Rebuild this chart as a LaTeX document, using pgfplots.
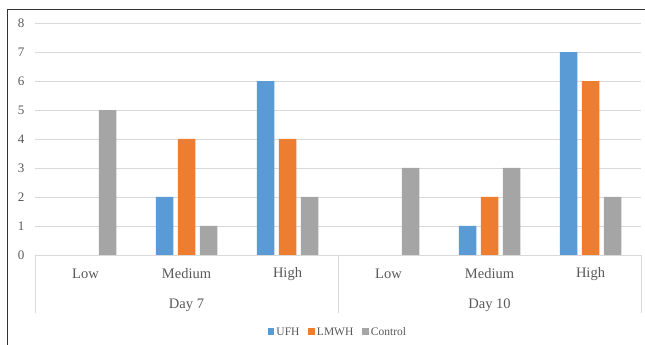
\documentclass[border=0pt]{standalone}
\usepackage{pgfplots}
\pgfplotsset{compat=1.18}
\usepackage{fontspec}
\setmainfont{Liberation Serif}
\definecolor{cUFH}{HTML}{5B9BD5}
\definecolor{cLMWH}{HTML}{ED7D31}
\definecolor{cCtrl}{HTML}{A5A5A5}
\definecolor{gridc}{HTML}{D9D9D9}
\definecolor{txt}{HTML}{595959}
\begin{document}
\begin{tikzpicture}[x=1pt,y=1pt]
\useasboundingbox (0,0) rectangle (645,345);
\draw[line width=1pt, black!80] (7,0) -- (7,335) -- (645,335);
\begin{axis}[
  at={(35pt,90pt)}, anchor=south west,
  scale only axis, width=606pt, height=232pt,
  ybar=4.5pt, bar width=17.5pt,
  xmin=-0.5, xmax=5.5, ymin=0, ymax=8,
  ytick={0,1,...,8},
  xtick={0,1,2,3,4,5},
  xticklabels={Low,Medium,High,Low,Medium,High},
  axis line style={draw=none},
  major tick length=0pt,
  ymajorgrids, grid style={gridc, line width=0.8pt},
  /pgf/number format/assume math mode=true,
  yticklabel style={font=\fontsize{13}{15}\selectfont, text=txt, xshift=-7pt},
  xticklabel style={font=\fontsize{14.5}{16}\selectfont, text=txt, anchor=center, yshift=-19pt},
  clip=false,
  legend style={at={(axis description cs:0.5,0)}, anchor=center, yshift=-77pt,
    draw=none, font=\fontsize{11.5}{13}\selectfont, text=txt,
    /tikz/every even column/.append style={column sep=7pt}},
  legend columns=-1,
  legend image code/.code={\fill[#1] (0pt,-3pt) rectangle (6.5pt,3.5pt);},
]
\addplot[fill=cUFH, draw=none] coordinates {(1,2) (2,6) (4,1) (5,7)};
\addplot[fill=cLMWH, draw=none] coordinates {(1,4) (2,4) (4,2) (5,6)};
\addplot[fill=cCtrl, draw=none] coordinates {(0,5) (1,1) (2,2) (3,3) (4,3) (5,2)};
\legend{UFH,LMWH,Control}
\draw[gridc, line width=0.8pt] (axis cs:-0.5,0) -- ([yshift=-58pt]axis cs:-0.5,0);
\draw[gridc, line width=0.8pt] (axis cs:2.5,0) -- ([yshift=-58pt]axis cs:2.5,0);
\draw[gridc, line width=0.8pt] (axis cs:5.5,0) -- ([yshift=-58pt]axis cs:5.5,0);
\node[font=\fontsize{14.5}{16}\selectfont, text=txt] at ([yshift=-50pt]axis cs:1,0) {Day 7};
\node[font=\fontsize{14.5}{16}\selectfont, text=txt] at ([yshift=-50pt]axis cs:4,0) {Day 10};
\end{axis}
\end{tikzpicture}
\end{document}
